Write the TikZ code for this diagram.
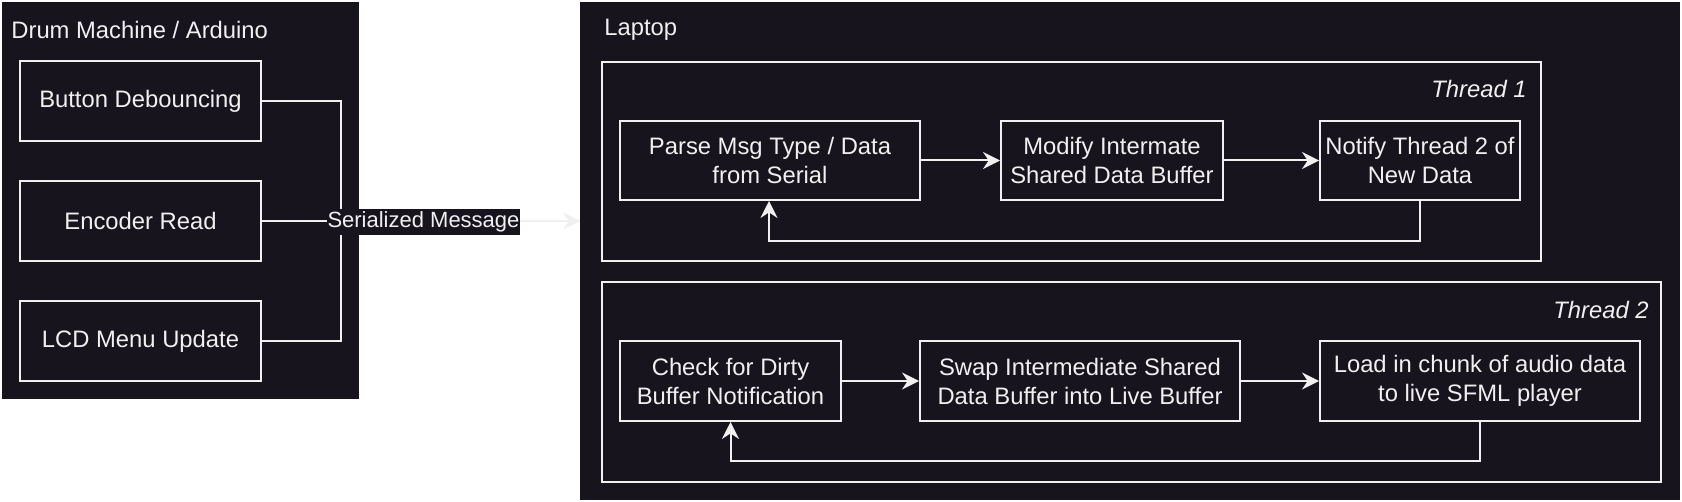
\documentclass[tikz,border=0pt]{standalone}
\usepackage{fontspec}
\setmainfont{Liberation Sans}
\usetikzlibrary{arrows.meta}
\definecolor{bgdark}{HTML}{18141D}
\definecolor{fg}{HTML}{F0F0F0}
\tikzset{
  container/.style={fill=bgdark, draw=none},
  frame/.style={draw=fg, line width=1pt},
  stepbox/.style={draw=fg, line width=1pt, fill=bgdark, text=fg, align=center, inner sep=0pt,
    font=\fontsize{11.9}{14.5}\selectfont},
  title/.style={text=fg, inner sep=0pt, font=\fontsize{11.9}{14.5}\selectfont},
  conn/.style={draw=fg, line width=1pt},
  arr/.style={draw=fg, line width=1pt, -{Stealth[length=8.5pt, width=8.5pt, inset=2.8pt]}},
}
\begin{document}
\begin{tikzpicture}[x=0.5pt, y=-0.5pt]
\useasboundingbox (0,0) rectangle (1682,502);
\fill[white] (0,0) rectangle (1682,502);
% containers
\node[container, minimum width=357*0.5pt, minimum height=397*0.5pt, inner sep=0pt, anchor=north west] (arduino) at (2,2) {};
\node[container, minimum width=1100*0.5pt, minimum height=498*0.5pt, inner sep=0pt, anchor=north west] (laptop) at (580,2) {};
\node[title, anchor=west] (ardtitle) at (11,30) {Drum Machine / Arduino};
\node[title, anchor=west] (laptitle) at (604,30) {Laptop};
% thread frames
\node[frame, minimum width=939*0.5pt, minimum height=199*0.5pt, inner sep=0pt, anchor=north west] (t1) at (601,61) {};
\node[frame, minimum width=1059*0.5pt, minimum height=200*0.5pt, inner sep=0pt, anchor=north west] (t2) at (601,281) {};
\node[title, anchor=east, font=\fontsize{11.9}{14.5}\selectfont\itshape] (t1lbl) at (1527,89) {Thread 1};
\node[title, anchor=east, font=\fontsize{11.9}{14.5}\selectfont\itshape] (t2lbl) at (1649,310) {Thread 2};
% arduino boxes
\node[stepbox, minimum width=241*0.5pt, minimum height=80*0.5pt] (btn) at (140.5,101) {Button Debouncing};
\node[stepbox, minimum width=241*0.5pt, minimum height=80*0.5pt] (enc) at (140.5,221) {Encoder Read};
\node[stepbox, minimum width=241*0.5pt, minimum height=80*0.5pt] (lcd) at (140.5,341) {LCD Menu Update};
% thread 1 boxes
\node[stepbox, minimum width=300*0.5pt, minimum height=79*0.5pt] (parse) at (770,160.5) {Parse Msg Type / Data\\from Serial};
\node[stepbox, minimum width=222*0.5pt, minimum height=79*0.5pt] (modify) at (1112,160.5) {Modify Intermate\\Shared Data Buffer};
\node[stepbox, minimum width=200*0.5pt, minimum height=79*0.5pt] (notify) at (1420,160.5) {Notify Thread 2 of\\New Data};
% thread 2 boxes
\node[stepbox, minimum width=221*0.5pt, minimum height=80*0.5pt] (check) at (730.5,381) {Check for Dirty\\Buffer Notification};
\node[stepbox, minimum width=320*0.5pt, minimum height=80*0.5pt] (swap) at (1080,381) {Swap Intermediate Shared\\Data Buffer into Live Buffer};
\node[stepbox, minimum width=320*0.5pt, minimum height=80*0.5pt] (load) at (1480,381) {Load in chunk of audio data\\to live SFML player};
% serial connectors
\coordinate (entry) at (laptop.west |- enc.east);
\draw[conn] (btn.east) -- (341,101) |- (entry);
\draw[conn] (lcd.east) -- (341,341) |- (entry);
\draw[arr] (enc.east) -- (entry);
\node[fill=bgdark, text=fg, inner xsep=0.5pt, inner ysep=1.5pt, font=\fontsize{11}{13}\selectfont] (serlbl) at (423.5,222) {Serialized Message};
% thread 1 flow
\draw[arr] (parse) -- (modify);
\draw[arr] (modify) -- (notify);
\draw[arr] (notify.south) -- ++(0,40) -| ([xshift=-0.5]parse.south);
% thread 2 flow
\draw[arr] (check) -- (swap);
\draw[arr] (swap) -- (load);
\draw[arr] (load.south) -- ++(0,39) -| (check.south);
\end{tikzpicture}
\end{document}
